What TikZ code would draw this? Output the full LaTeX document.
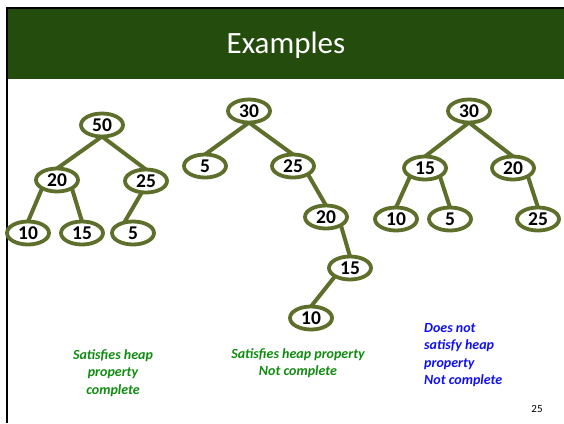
\documentclass[tikz,border=0pt]{standalone}
\usepackage{fontspec}
\setmainfont{Carlito}
\usetikzlibrary{shapes.geometric,backgrounds}
\definecolor{headgreen}{RGB}{36,76,12}
\definecolor{treeolive}{RGB}{94,111,44}
\definecolor{capgreen}{RGB}{16,140,16}
\definecolor{capblue}{RGB}{16,16,240}
\begin{document}
\begin{tikzpicture}[x=1pt,y=-1pt,
  hnode/.style={ellipse, draw=treeolive, line width=3.8pt, fill=white,
    minimum width=42pt, minimum height=23pt, inner sep=0pt, outer sep=0pt,
    font=\fontsize{19.5}{19.5}\selectfont\bfseries},
  hedge/.style={draw=treeolive, line width=4pt},
  caption/.style={font=\fontsize{14}{17.2}\selectfont\bfseries\itshape, inner sep=0pt}]
\useasboundingbox (0,0) rectangle (564,423);
% page, slide header and frame
\begin{scope}[on background layer]
  \fill[white] (0,0) rectangle (564,423);
  \fill[headgreen] (6,8) rectangle (564,79);
  \draw[line width=2pt] (6.5,423) -- (6.5,8) -- (564,8);
\end{scope}
\node[text=white, font=\fontsize{31}{31}\selectfont] (title) at (286,45) {Examples};

% tree 1: heap, complete
\node[hnode] (a50) at (102,125) {50};
\node[hnode] (a20) at (57,180) {20};
\node[hnode] (a25) at (146,181) {25};
\node[hnode] (a10) at (28,233) {10};
\node[hnode] (a15) at (82,233) {15};
\node[hnode] (a5)  at (133,233) {5};

% tree 2: heap, not complete
\node[hnode] (b30) at (249,111) {30};
\node[hnode] (b5)  at (205,166) {5};
\node[hnode] (b25) at (293,166) {25};
\node[hnode] (b20) at (326,217) {20};
\node[hnode] (b15) at (350,268) {15};
\node[hnode] (b10) at (311,318) {10};

% tree 3: not a heap
\node[hnode] (c30) at (469,111) {30};
\node[hnode] (c15) at (425,168) {15};
\node[hnode] (c20) at (513,168) {20};
\node[hnode] (c10) at (396,219) {10};
\node[hnode] (c5)  at (450,219) {5};
\node[hnode] (c25) at (538,219) {25};

% tree edges, behind the nodes
\begin{scope}[on background layer]
  \draw[hedge] (a50.south) -- (a20.north);
  \draw[hedge] (a50.south) -- (a25.north);
  \draw[hedge] (a20.south west) -- (a10.north);
  \draw[hedge] (a20.south east) -- (a15.north);
  \draw[hedge] (a25.250) -- (a5.130);
  \draw[hedge] (b30.south) -- (b5.north);
  \draw[hedge] (b30.south) -- (b25.north);
  \draw[hedge] (b25.south east) -- (b20.north);
  \draw[hedge] (b20.south east) -- (b15.north);
  \draw[hedge] (b15.south west) -- (b10.north);
  \draw[hedge] (c30.south) -- (c15.north);
  \draw[hedge] (c30.south) -- (c20.north);
  \draw[hedge] (c15.south west) -- (c10.north);
  \draw[hedge] (c15.south east) -- (c5.north);
  \draw[hedge] (c20.south east) -- (c25.north);
\end{scope}

% captions
\node[caption, text=capgreen, align=center] (cap1) at (113,373)
  {Satisfies heap\\property\\complete};
\node[caption, text=capgreen, align=center] (cap2) at (298,363)
  {Satisfies heap property\\Not complete};
\node[caption, text=capblue, align=left, anchor=west] (cap3) at (424,355)
  {Does not\\satisfy heap\\property\\Not complete};

\node[font=\fontsize{11}{11}\selectfont] (page) at (537,409) {25};
\end{tikzpicture}
\end{document}
